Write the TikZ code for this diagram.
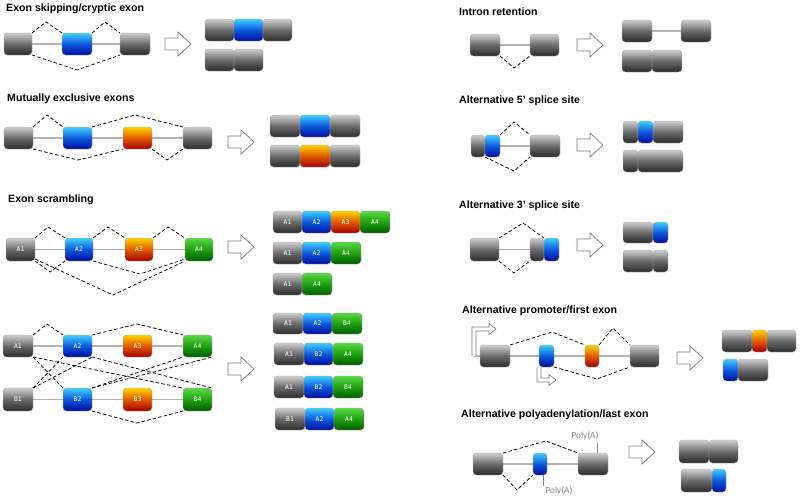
\documentclass[tikz,border=0pt]{standalone}
\usepackage{fontspec}
\setmainfont{Liberation Sans}
\newfontfamily\monof{DejaVu Sans Mono}
\newfontfamily\calf{Carlito}
\pgfdeclarelayer{bg}
\pgfsetlayers{bg,main}
\definecolor{gtop}{HTML}{CFCFCF}
\definecolor{gmid}{HTML}{6A6A6A}
\definecolor{gbot}{HTML}{2A2A2A}
\definecolor{btop}{HTML}{40D0FF}
\definecolor{bmid}{HTML}{0C58DC}
\definecolor{bbot}{HTML}{000C98}
\definecolor{otop}{HTML}{FFD400}
\definecolor{omid}{HTML}{E05A00}
\definecolor{obot}{HTML}{A00000}
\definecolor{vtop}{HTML}{5AD848}
\definecolor{vmid}{HTML}{20A010}
\definecolor{vbot}{HTML}{005C00}
\definecolor{exb}{HTML}{A8A8A8}
\definecolor{intr}{HTML}{B4B4B4}
\definecolor{arrb}{HTML}{7A7A7A}
\definecolor{polyc}{HTML}{888888}
\tikzset{
 exon/.style={rectangle, rounded corners=3.5pt, inner sep=0pt, outer sep=0pt, draw=exb, line width=0.4pt, font=\monof\fontsize{6.3}{7}\selectfont, text=white!85},
 exG/.style={exon, top color=gtop, bottom color=gbot, middle color=gmid},
 exB/.style={exon, top color=btop, bottom color=bbot, middle color=bmid},
 exO/.style={exon, top color=otop, bottom color=obot, middle color=omid},
 exV/.style={exon, top color=vtop, bottom color=vbot, middle color=vmid},
 intron/.style={draw=intr, line width=1.6pt},
 junc/.style={draw=black, line width=0.75pt, dash pattern=on 3.5pt off 2.2pt},
 barrow/.style={draw=arrb, fill=white, line width=0.7pt, line join=miter},
 parrow/.style={draw=arrb, fill=white, line width=0.6pt, line join=miter},
 ttl/.style={anchor=base west, inner sep=0pt, font=\bfseries\fontsize{10.6}{12}\selectfont},
 polyA/.style={inner sep=0pt, text=polyc, font=\calf\fontsize{9.3}{10}\selectfont},
}
\newcommand\ex[7]{\node[#1, minimum width={#5-#3}, minimum height={#6-#4}, anchor=north west] (#2) at (#3,#4) {#7};}
\newcommand\blockarrow[2]{\draw[barrow] ({#1-13},{#2-6}) -- ({#1},{#2-6}) -- ({#1},{#2-12}) -- ({#1+13},{#2}) -- ({#1},{#2+12}) -- ({#1},{#2+6}) -- ({#1-13},{#2+6}) -- cycle;}
\begin{document}
\begin{tikzpicture}[x=1pt,y=-1pt]
\useasboundingbox (0,0) rectangle (800,499);

% ---------- Panel 1: exon skipping
\node[ttl] (t1) at (6,11) {Exon skipping/cryptic exon};
\ex{exG}{a1}{4}{33}{32}{55}{}
\ex{exB}{a2}{62}{33}{92}{55}{}
\ex{exG}{a3}{120}{33}{150}{55}{}
\begin{pgfonlayer}{bg}\draw[intron] (a1.center) -- (a3.center);\end{pgfonlayer}
\draw[junc] (a1.north east) -- (46,22) -- (a2.north west);
\draw[junc] (a2.north east) -- (105,22) -- (a3.north west);
\draw[junc] (a1.south east) -- (77,70) -- (a3.south west);
\blockarrow{178}{44}
\ex{exG}{p11}{205}{19}{234}{41}{}
\ex{exB}{p12}{234}{19}{263}{41}{}
\ex{exG}{p13}{263}{19}{292}{41}{}
\ex{exG}{p14}{205}{49}{234}{71}{}
\ex{exG}{p15}{234}{49}{263}{71}{}

% ---------- Panel 2: mutually exclusive
\node[ttl] (t2) at (7,101) {Mutually exclusive exons};
\ex{exG}{b1}{4}{127}{33}{149}{}
\ex{exB}{b2}{63}{127}{92}{149}{}
\ex{exO}{b3}{123}{127}{152}{149}{}
\ex{exG}{b4}{183}{127}{212}{149}{}
\begin{pgfonlayer}{bg}\draw[intron] (b1.center) -- (b4.center);\end{pgfonlayer}
\draw[junc] (b1.north east) -- (47,115) -- (b2.north west);
\draw[junc] (b2.north east) -- (135,115) -- (b4.north west);
\draw[junc] (b1.south east) -- (78,160) -- (b3.south west);
\draw[junc] (b3.south east) -- (167,160) -- (b4.south west);
\blockarrow{241}{142}
\ex{exG}{p21}{270}{115}{300}{137}{}
\ex{exB}{p22}{300}{115}{330}{137}{}
\ex{exG}{p23}{330}{115}{360}{137}{}
\ex{exG}{p24}{270}{145}{300}{167}{}
\ex{exO}{p25}{300}{145}{330}{167}{}
\ex{exG}{p26}{330}{145}{360}{167}{}

% ---------- Panel 3: exon scrambling
\node[ttl] (t3) at (8,202) {Exon scrambling};
\ex{exG}{c1}{6}{238}{35}{261}{A1}
\ex{exB}{c2}{65}{238}{93}{261}{A2}
\ex{exO}{c3}{125}{238}{153}{261}{A3}
\ex{exV}{c4}{185}{238}{213}{261}{A4}
\begin{pgfonlayer}{bg}\draw[intron] (c1.center) -- (c4.center);\end{pgfonlayer}
\draw[junc] (c1.north east) -- (48,227) -- (c2.north west);
\draw[junc] (c2.north east) -- (108,227) -- (c3.north west);
\draw[junc] (c3.north east) -- (168,227) -- (c4.north west);
\draw[junc] (c1.south east) -- (50,272) -- (c2.south west);
\draw[junc] (c2.south east) -- (140,274) -- ([yshift=2pt]c4.south west);
\draw[junc] ([yshift=2pt]c1.south east) -- (113,295) -- (c4.south west);
\blockarrow{241}{247}
\ex{exG}{p31}{273}{211}{302}{233}{A1}
\ex{exB}{p32}{302}{211}{331}{233}{A2}
\ex{exO}{p33}{331}{211}{360}{233}{A3}
\ex{exV}{p34}{360}{211}{390}{233}{A4}
\ex{exG}{p35}{273}{242}{302}{264}{A1}
\ex{exB}{p36}{302}{242}{331}{264}{A2}
\ex{exV}{p37}{331}{242}{361}{264}{A4}
\ex{exG}{p38}{273}{273}{302}{295}{A1}
\ex{exV}{p39}{302}{273}{332}{295}{A4}

% ---------- Panel 4: two-gene scrambling
\ex{exG}{dA1}{3}{335}{33}{357}{A1}
\ex{exB}{dA2}{63}{335}{92}{357}{A2}
\ex{exO}{dA3}{123}{335}{152}{357}{A3}
\ex{exV}{dA4}{183}{335}{212}{357}{A4}
\ex{exG}{dB1}{3}{388}{33}{411}{B1}
\ex{exB}{dB2}{63}{388}{92}{411}{B2}
\ex{exO}{dB3}{123}{388}{152}{411}{B3}
\ex{exV}{dB4}{183}{388}{212}{411}{B4}
\begin{pgfonlayer}{bg}
\draw[intron] (dA1.center) -- (dA4.center);
\draw[intron] (dB1.center) -- (dB4.center);
\end{pgfonlayer}
\draw[junc] (dA1.north east) -- (47,324) -- (dA2.north west);
\draw[junc] (dA2.north east) -- (137,324) -- (dA4.north west);
\draw[junc] (dB2.south east) -- (137,423) -- (dB4.south west);
\draw[junc] (dA1.south east) -- (dB2.north west);
\draw[junc] (dB1.north east) -- (dA2.south west);
\draw[junc] (dB1.north east) -- (dA2.south east);
\draw[junc] (dA1.south east) -- (dB4.north west);
\draw[junc] (dA2.south east) -- (dB4.north east);
\draw[junc] (dB2.north east) -- (dA4.south west);
\draw[junc] (dB2.north east) -- (dA4.south east);
\blockarrow{241}{369}
\ex{exG}{q11}{273}{313}{303}{334}{A1}
\ex{exB}{q12}{303}{313}{332}{334}{A2}
\ex{exV}{q13}{332}{313}{362}{334}{B4}
\ex{exG}{q21}{274}{343}{304}{365}{A1}
\ex{exB}{q22}{304}{343}{333}{365}{B2}
\ex{exV}{q23}{333}{343}{363}{365}{A4}
\ex{exG}{q31}{274}{376}{304}{398}{A1}
\ex{exB}{q32}{304}{376}{333}{398}{B2}
\ex{exV}{q33}{333}{376}{363}{398}{B4}
\ex{exG}{q41}{275}{408}{305}{430}{B1}
\ex{exB}{q42}{305}{408}{334}{430}{A2}
\ex{exV}{q43}{334}{408}{364}{430}{A4}

% ---------- Right 1: intron retention
\node[ttl] (t5) at (459,15) {Intron retention};
\ex{exG}{e1}{470}{34}{500}{56}{}
\ex{exG}{e2}{530}{34}{559}{56}{}
\begin{pgfonlayer}{bg}\draw[intron] (e1.center) -- (e2.center);\end{pgfonlayer}
\draw[junc] (e1.south east) -- (514,68) -- (e2.south west);
\blockarrow{590}{45}
\ex{exG}{r11}{622}{20}{652}{42}{}
\ex{exG}{r12}{681}{20}{711}{42}{}
\begin{pgfonlayer}{bg}\draw[intron] (r11.center) -- (r12.center);\end{pgfonlayer}
\ex{exG}{r13}{622}{50}{652}{72}{}
\ex{exG}{r14}{652}{50}{682}{72}{}

% ---------- Right 2: alternative 5' splice site
\node[ttl] (t6) at (459,103) {Alternative 5' splice site};
\ex{exG}{f1}{471}{135}{485}{157}{}
\ex{exB}{f2}{485}{135}{500}{157}{}
\ex{exG}{f3}{530}{135}{560}{157}{}
\begin{pgfonlayer}{bg}\draw[intron] (f2.center) -- (f3.center);\end{pgfonlayer}
\draw[junc] (f2.north east) -- (514,122) -- (f3.north west);
\draw[junc] (f1.south east) -- (514,171) -- (f3.south west);
\blockarrow{590}{145}
\ex{exG}{r21}{623}{121}{638}{143}{}
\ex{exB}{r22}{638}{121}{653}{143}{}
\ex{exG}{r23}{653}{121}{683}{143}{}
\ex{exG}{r24}{623}{150}{638}{172}{}
\ex{exG}{r25}{638}{150}{683}{172}{}

% ---------- Right 3: alternative 3' splice site
\node[ttl] (t7) at (459,208) {Alternative 3’ splice site};
\ex{exG}{g1}{470}{238}{499}{261}{}
\ex{exG}{g2}{530}{238}{544}{261}{}
\ex{exB}{g3}{544}{238}{559}{261}{}
\begin{pgfonlayer}{bg}\draw[intron] (g1.center) -- (g2.center);\end{pgfonlayer}
\draw[junc] (g1.north east) -- (523,223) -- (g3.north west);
\draw[junc] (g1.south east) -- (514,273) -- (g2.south west);
\blockarrow{590}{245}
\ex{exG}{r31}{623}{222}{653}{243}{}
\ex{exB}{r32}{653}{222}{668}{243}{}
\ex{exG}{r33}{623}{250}{653}{272}{}
\ex{exG}{r34}{653}{250}{668}{272}{}

% ---------- Right 4: alternative promoter
\node[ttl] (t8) at (462,313) {Alternative promoter/first exon};
\coordinate (hs) at (473,356);
\ex{exG}{h1}{480}{345}{510}{367}{}
\ex{exB}{h2}{539}{345}{554}{367}{}
\ex{exO}{h3}{585}{345}{599}{367}{}
\ex{exG}{h4}{630}{345}{659}{367}{}
\begin{pgfonlayer}{bg}\draw[intron] (hs) -- (h4.center);\end{pgfonlayer}
\draw[parrow] (472,356) -- (472,327) -- (489,327) -- (489,323.5) -- (496,329) -- (489,334.5) -- (489,331) -- (476,331) -- (476,356);
\draw[parrow] (537,367) -- (537,382) -- (549,382) -- (549,385.5) -- (556,380) -- (549,374.5) -- (549,378) -- (541,378) -- (541,367);
\draw[junc] (h1.north east) -- (552,332) -- (h3.north west);
\draw[junc] (h3.north east) -- (613,328) -- (h4.north west);
\draw[junc] (h2.south east) -- (597,379) -- (h4.south west);
\blockarrow{690}{358}
\ex{exG}{r41}{722}{330}{752}{352}{}
\ex{exO}{r42}{752}{330}{767}{352}{}
\ex{exG}{r43}{767}{330}{796}{352}{}
\ex{exB}{r44}{723}{359}{738}{381}{}
\ex{exG}{r45}{738}{359}{768}{381}{}

% ---------- Right 5: alternative polyadenylation
\node[ttl] (t9) at (461,417) {Alternative polyadenylation/last exon};
\ex{exG}{i1}{473}{453}{503}{475}{}
\ex{exB}{i2}{533}{453}{547}{475}{}
\ex{exG}{i3}{578}{453}{608}{475}{}
\begin{pgfonlayer}{bg}\draw[intron] (i1.center) -- (i3.center);\end{pgfonlayer}
\draw[junc] (i1.north east) -- (546,441) -- (i3.north west);
\draw[junc] (i1.south east) -- (517,490) -- (i2.south west);
\node[polyA] (pa1) at (585,436) {Poly(A)};
\node[polyA] (pa2) at (559,491) {Poly(A)};
\draw[polyc, line width=0.8pt] (597,443) -- (597,453);
\draw[polyc, line width=0.8pt] (543,475) -- (543,486);
\blockarrow{642}{452}
\ex{exG}{r51}{679}{440}{709}{463}{}
\ex{exG}{r52}{709}{440}{738}{463}{}
\ex{exG}{r53}{681}{469}{712}{492}{}
\ex{exB}{r54}{712}{469}{726}{492}{}
\end{tikzpicture}
\end{document}
